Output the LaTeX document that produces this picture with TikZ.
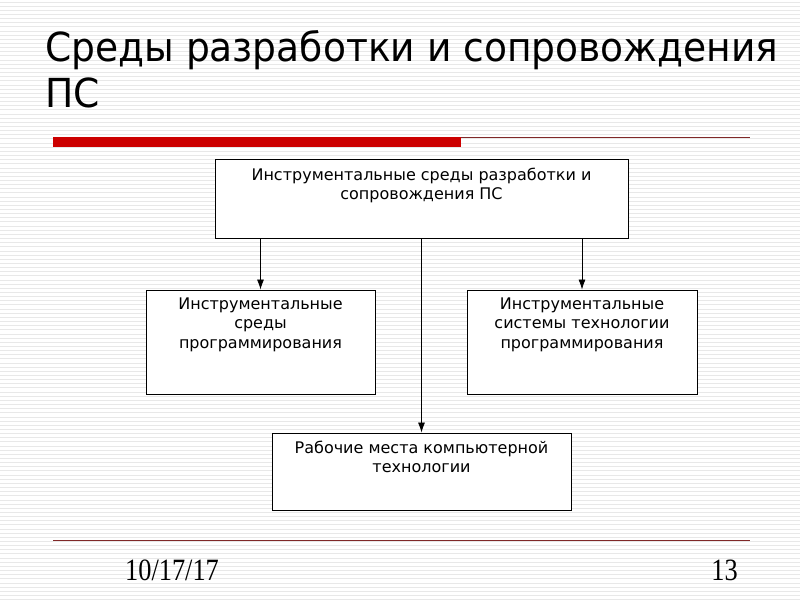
\documentclass[tikz,border=0pt]{standalone}
\usepackage{fontspec}
\setmainfont{DejaVu Sans}
\newfontfamily\titlefont[FakeStretch=0.94]{DejaVu Sans}
\newfontfamily\footfont[FakeStretch=0.85]{Liberation Serif}
\usetikzlibrary{arrows,arrows.meta,positioning,calc}
\definecolor{barred}{RGB}{204,0,0}
\definecolor{linered}{RGB}{128,40,40}

\begin{document}
\begin{tikzpicture}
[x=1pt,y=-1pt,
stripe/.style={draw=black!9,line width=1pt},
box/.style={draw=black,fill=white,line width=.9pt,inner sep=0pt},
boxtext/.style={inner sep=0pt,align=center,font=\fontsize{16}{19.5}\selectfont},
arr/.style={-{Latex[length=10pt,width=7pt]},line width=.8pt}]
\useasboundingbox (0,0) rectangle (800,600);
\fill[white] (0,0) rectangle (800,600);
\foreach \y in {2,6.15,...,600}
\draw[stripe] (0,\y) -- (800,\y);
% title
\node[anchor=north west,inner sep=0pt,align=left,font=\titlefont\fontsize{40}{46}\selectfont] (title) at (45,30) {Среды разработки и сопровождения\\ПС};
\fill[barred] (53,137) rectangle (461,147);
\draw[linered,line width=.8pt] (461,137) -- (750,137);
% boxes
\node[box,minimum width=413pt,minimum height=79pt] (env) at (421.5,198.5) {};
\node[box,minimum width=229pt,minimum height=104pt] (prog) at (260.5,342) {};
\node[box,minimum width=230pt,minimum height=104pt] (tech) at (582,342) {};
\node[box,minimum width=299pt,minimum height=77pt] (work) at (421.5,471.5) {};
\node[boxtext,anchor=north] (envtext) at ($(env.north)+(0,9)$) {Инструментальные среды разработки и\\сопровождения ПС};
\node[boxtext,anchor=north] (progtext) at ($(prog.north)+(0,8)$) {Инструментальные\\среды\\программирования};
\node[boxtext,anchor=north] (techtext) at ($(tech.north)+(0,8)$) {Инструментальные\\системы технологии\\программирования};
\node[boxtext,anchor=north] (worktext) at ($(work.north)+(0,8)$) {Рабочие места компьютерной\\технологии};
% connectors
\draw[arr] (env.south -| prog.north) -- (prog.north);
\draw[arr] (env.south -| tech.north) -- (tech.north);
\draw[arr] (env.south) -- (work.north);
% footer
\draw[linered,line width=1pt] (53,540) -- (750,540);
\node[anchor=base west,inner sep=0pt,font=\footfont\fontsize{31}{31}\selectfont] (date) at (125,580) {10/17/17};
\node[anchor=base east,inner sep=0pt,font=\footfont\fontsize{31}{31}\selectfont] (page) at (738,580) {13};
\end{tikzpicture}
\end{document}
